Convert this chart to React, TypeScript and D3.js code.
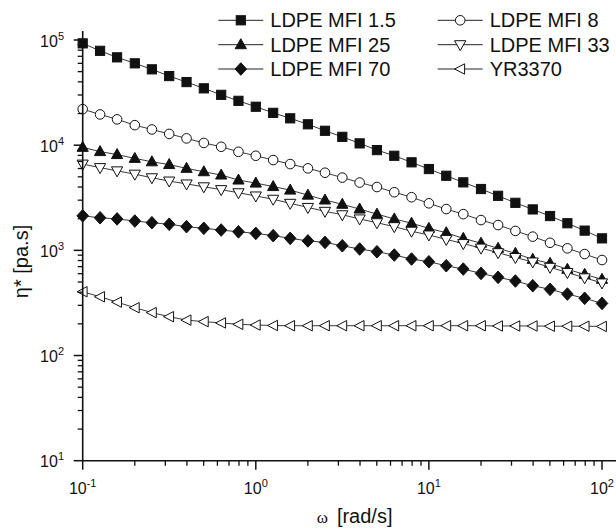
import React from "react";
import * as d3 from "d3";

const omega = [0.1, 0.126, 0.158, 0.2, 0.251, 0.316, 0.398, 0.501, 0.631, 0.794, 1, 1.26, 1.58, 2, 2.51, 3.16, 3.98, 5.01, 6.31, 7.94, 10, 12.6, 15.8, 20, 25.1, 31.6, 39.8, 50.1, 63.1, 79.4, 100];

const mfi1_5 = [92900, 78900, 68400, 60000, 52600, 45400, 39800, 34700, 30100, 26400, 23200, 20300, 18000, 15800, 13700, 12000, 10400, 8980, 7930, 6870, 5930, 5120, 4430, 3830, 3300, 2830, 2450, 2120, 1810, 1540, 1300];
const mfi8 = [22000, 19600, 17600, 15500, 14100, 12800, 11600, 10500, 9660, 8650, 7930, 7220, 6610, 6020, 5470, 4920, 4410, 4000, 3570, 3200, 2800, 2470, 2210, 1940, 1740, 1530, 1350, 1180, 1045, 922, 809];
const mfi25 = [9530, 8690, 8140, 7490, 6950, 6540, 6020, 5590, 5200, 4660, 4360, 4040, 3740, 3350, 3010, 2740, 2470, 2210, 1990, 1810, 1620, 1470, 1300, 1170, 1045, 936, 821, 752, 660, 591, 530];
const mfi33 = [6610, 6120, 5700, 5300, 4900, 4560, 4280, 4020, 3780, 3530, 3290, 3060, 2800, 2560, 2350, 2180, 1990, 1830, 1680, 1520, 1400, 1270, 1160, 1050, 950, 855, 775, 690, 615, 548, 490];
const mfi70 = [2130, 2040, 1990, 1900, 1830, 1770, 1680, 1620, 1560, 1500, 1450, 1380, 1300, 1230, 1190, 1105, 1030, 970, 902, 827, 779, 714, 664, 604, 554, 511, 461, 426, 384, 350, 313];
const yr3370 = [404, 362, 322, 285, 256, 234, 217, 210, 204, 198, 195, 193, 192, 192, 192, 192, 192, 192, 192, 192, 192, 192, 192, 192, 191, 191, 191, 190, 190, 190, 189];

const seriesNames = ["LDPE MFI 1.5", "LDPE MFI 8", "LDPE MFI 25", "LDPE MFI 33", "LDPE MFI 70", "YR3370"];
const seriesValues = [mfi1_5, mfi8, mfi25, mfi33, mfi70, yr3370];
const seriesMarkers = ["square", "circle", "triUp", "triDown", "diamond", "triLeft"];

const xTickExps = [-1, 0, 1, 2];
const yTickExps = [1, 2, 3, 4, 5];

const FONT = "'Liberation Sans', Arial, Helvetica, sans-serif";

function Marker({ type, x, y }: { type: string; x: number; y: number }) {
  const common = { stroke: "#111", strokeWidth: 1 };
  switch (type) {
    case "square":
      return <rect x={x - 4.6} y={y - 4.6} width={9.2} height={9.2} fill="#111" {...common} />;
    case "circle":
      return <circle cx={x} cy={y} r={4.8} fill="#fff" {...common} />;
    case "triUp":
      return <path d={`M${x},${y - 6}L${x + 5.6},${y + 4}L${x - 5.6},${y + 4}Z`} fill="#111" {...common} />;
    case "triDown":
      return <path d={`M${x},${y + 6}L${x + 5.6},${y - 4}L${x - 5.6},${y - 4}Z`} fill="#fff" {...common} />;
    case "diamond":
      return <path d={`M${x},${y - 6.3}L${x + 5.8},${y}L${x},${y + 6.3}L${x - 5.8},${y}Z`} fill="#111" {...common} />;
    case "triLeft":
      return <path d={`M${x - 5.6},${y}L${x + 4.4},${y - 5.2}L${x + 4.4},${y + 5.2}Z`} fill="#fff" {...common} />;
    default:
      return null;
  }
}

export default function App() {
  const W = 616;
  const H = 529;
  const x = d3.scaleLog().domain([0.1, 100]).range([82.7, 602]);
  const y = d3.scaleLog().domain([10, 100000]).range([460.7, 40]);
  const xAxisEnd = 616;
  const yAxisTop = 31;

  const line = d3
    .line<number>()
    .x((_, i) => x(omega[i]))
    .y((d) => y(d));

  const xMinor: number[] = [];
  for (let e = -1; e < 2; e++) for (let m = 2; m <= 9; m++) xMinor.push(m * Math.pow(10, e));
  const yMinor: number[] = [];
  for (let e = 1; e < 5; e++) for (let m = 2; m <= 9; m++) yMinor.push(m * Math.pow(10, e));

  const x0 = x(0.1);
  const y0 = y(10);

  const legendRows = [
    { col: 0, row: 0, s: 0 },
    { col: 1, row: 0, s: 1 },
    { col: 0, row: 1, s: 2 },
    { col: 1, row: 1, s: 3 },
    { col: 0, row: 2, s: 4 },
    { col: 1, row: 2, s: 5 },
  ];
  const colX = [218.3, 437.7];
  const rowY = [20.3, 44.7, 69];

  return (
    <svg width={W} height={H} style={{ position: "absolute", left: 0, top: 0 }} fontFamily={FONT}>
      <rect x={0} y={0} width={W} height={H} fill="#fff" />
      {/* series */}
      {seriesValues.map((vals, si) => (
        <g key={si}>
          <path d={line(vals) || ""} fill="none" stroke="#222" strokeWidth={0.9} />
          {vals.map((v, i) => (
            <Marker key={i} type={seriesMarkers[si]} x={x(omega[i])} y={y(v)} />
          ))}
        </g>
      ))}
      {/* axes */}
      <line x1={x0} x2={xAxisEnd} y1={y0} y2={y0} stroke="#111" strokeWidth={1.6} />
      <line x1={x0} x2={x0} y1={y0} y2={yAxisTop} stroke="#111" strokeWidth={1.6} />
      {xTickExps.map((e) => (
        <line key={"xt" + e} x1={x(Math.pow(10, e))} x2={x(Math.pow(10, e))} y1={y0} y2={y0 + 9} stroke="#111" strokeWidth={1.5} />
      ))}
      {xMinor.map((v) => (
        <line key={"xm" + v} x1={x(v)} x2={x(v)} y1={y0} y2={y0 + 5} stroke="#111" strokeWidth={1.3} />
      ))}
      {yTickExps.map((e) => (
        <line key={"yt" + e} x1={x0} x2={x0 - 9} y1={y(Math.pow(10, e))} y2={y(Math.pow(10, e))} stroke="#111" strokeWidth={1.5} />
      ))}
      {yMinor.map((v) => (
        <line key={"ym" + v} x1={x0} x2={x0 - 5} y1={y(v)} y2={y(v)} stroke="#111" strokeWidth={1.3} />
      ))}
      {/* x tick labels */}
      {xTickExps.map((e) => (
        <text key={"xl" + e} x={x(Math.pow(10, e))} y={494.3} textAnchor="middle" fontSize={16} fill="#111">
          10
          <tspan dy={-7} fontSize={11}>
            {String(e).replace("-", "-")}
          </tspan>
        </text>
      ))}
      {/* y tick labels */}
      {yTickExps.map((e) => (
        <text key={"yl" + e} x={64} y={y(Math.pow(10, e)) + 6.6} textAnchor="end" fontSize={16} fill="#111">
          10
          <tspan dy={-7} fontSize={11}>
            {e}
          </tspan>
        </text>
      ))}
      {/* axis titles */}
      <text x={316.7} y={523.3} fontSize={20} fill="#111">
        <tspan fontFamily="'Liberation Serif', 'Times New Roman', serif" fontSize={17}>ω</tspan>
        <tspan dx={9}>[rad/s]</tspan>
      </text>
      <text transform={`translate(27.5,261.5) rotate(-90)`} textAnchor="middle" fontSize={20} fill="#111">
        η* [pa.s]
      </text>
      {/* legend */}
      {legendRows.map((r) => {
        const lx = colX[r.col];
        const ly = rowY[r.row];
        return (
          <g key={"lg" + r.s}>
            <line x1={lx} x2={lx + 45} y1={ly} y2={ly} stroke="#222" strokeWidth={1} />
            <Marker type={seriesMarkers[r.s]} x={lx + 22.5} y={ly} />
            <text x={lx + 52} y={ly + 7} fontSize={20} fill="#111">
              {seriesNames[r.s]}
            </text>
          </g>
        );
      })}
    </svg>
  );
}
